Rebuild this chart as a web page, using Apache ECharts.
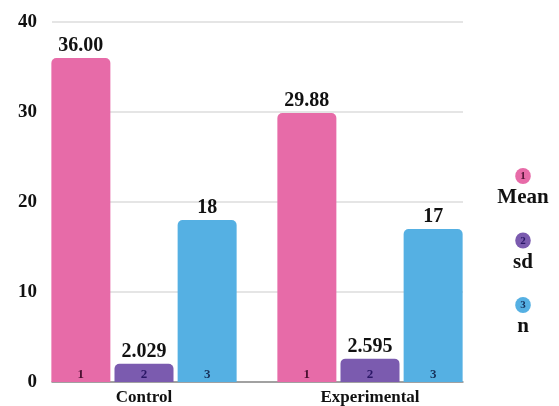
<!DOCTYPE html>
<html>
<head>
<meta charset="utf-8">
<script src="https://cdn.jsdelivr.net/npm/echarts@6/dist/echarts.min.js"></script>
<style>
  html, body { margin: 0; padding: 0; background: #fff; }
  #chart { width: 559px; height: 406px; }
</style>
</head>
<body>
<div id="chart"></div>
<script>
// 分组与数值
const groups = ['Control', 'Experimental'];
const seriesNames = ['Mean', 'sd', 'n'];
const meanValues = [36.00, 29.88];
const sdValues = [2.029, 2.595];
const nValues = [18, 17];
const decimals = [2, 3, 0];
const yTicks = [0, 10, 20, 30, 40];

const colors = ['#e76ba8', '#7b5baf', '#55b0e3'];
const innerColors = ['#4a1030', '#2a1766', '#16305a'];
const font = '"Liberation Serif", "DejaVu Serif", serif';

const allValues = [meanValues, sdValues, nValues];

// 每个指标：底层柱 + 堆叠的零高度柱（用于顶部数值）
const series = [];
seriesNames.forEach((name, i) => {
    series.push({
        name: name,
        type: 'bar',
        xAxisIndex: 1,
        yAxisIndex: 1,
        stack: 's' + i,
        barWidth: 59,
        barGap: '7%',
        data: allValues[i],
        itemStyle: { color: colors[i], borderRadius: [5, 5, 0, 0] },
        label: {
            show: true,
            position: 'insideBottom',
            distance: 1,
            formatter: String(i + 1),
            color: innerColors[i],
            fontFamily: font,
            fontWeight: 'bold',
            fontSize: 13
        }
    });
    series.push({
        name: name + '_top',
        type: 'bar',
        xAxisIndex: 1,
        yAxisIndex: 1,
        stack: 's' + i,
        barWidth: 59,
        barGap: '7%',
        data: allValues[i].map(() => 0),
        itemStyle: { color: 'transparent' },
        label: {
            show: true,
            position: 'top',
            distance: 2,
            formatter: p => allValues[i][p.dataIndex].toFixed(decimals[i]),
            color: '#111',
            fontFamily: font,
            fontWeight: 'bold',
            fontSize: 20
        },
        silent: true
    });
});

// 图例：圆形编号在上，名称在下，居中
const legendRich = {
    t: {
        width: 56, align: 'center', padding: [9, 0, 0, 0],
        fontFamily: font, fontWeight: 'bold', fontSize: 21, color: '#111', lineHeight: 24
    }
};
colors.forEach((c, i) => {
    legendRich['c' + i] = {
        backgroundColor: c, borderRadius: 8, padding: [3, 5, 2, 5], lineHeight: 11,
        align: 'center', fontFamily: font, fontWeight: 'bold', fontSize: 11, color: innerColors[i]
    };
});

const chart = echarts.init(document.getElementById('chart'));
chart.setOption({
    animation: false,
    grid: [
        { left: 52, right: 96, top: 22, bottom: 24, outerBoundsMode: 'none' },
        { left: 31, width: 452, top: 22, bottom: 24, outerBoundsMode: 'none' }
    ],
    xAxis: [
        {
            type: 'category', gridIndex: 0, data: groups,
            axisLine: { lineStyle: { color: '#8a8a8a', width: 1.5 } },
            axisTick: { show: false },
            axisLabel: { show: false }
        },
        {
            type: 'category', gridIndex: 1, data: groups,
            axisLine: { show: false },
            axisTick: { show: false },
            axisLabel: {
                margin: 7, color: '#111', fontFamily: font, fontWeight: 'bold', fontSize: 17
            }
        }
    ],
    yAxis: [
        {
            type: 'value', gridIndex: 0,
            min: yTicks[0], max: yTicks[yTicks.length - 1], interval: 10,
            axisLine: { show: false },
            axisTick: { show: false },
            axisLabel: {
                margin: 15, color: '#111', fontFamily: font, fontWeight: 'bold', fontSize: 19
            },
            splitLine: { lineStyle: { color: '#dcdcdc', width: 1.5 } }
        },
        {
            type: 'value', gridIndex: 1,
            min: yTicks[0], max: yTicks[yTicks.length - 1], interval: 10,
            show: false,
            splitLine: { show: false }
        }
    ],
    legend: {
        data: seriesNames,
        orient: 'vertical',
        left: 485,
        top: 163,
        itemWidth: 0,
        itemHeight: 0,
        itemGap: 24,
        icon: 'circle',
        formatter: name => {
            const i = seriesNames.indexOf(name);
            return '{c' + i + '|' + (i + 1) + '}\n{t|' + name + '}';
        },
        textStyle: { rich: legendRich },
        selectedMode: false
    },
    series: series
});
</script>
</body>
</html>
